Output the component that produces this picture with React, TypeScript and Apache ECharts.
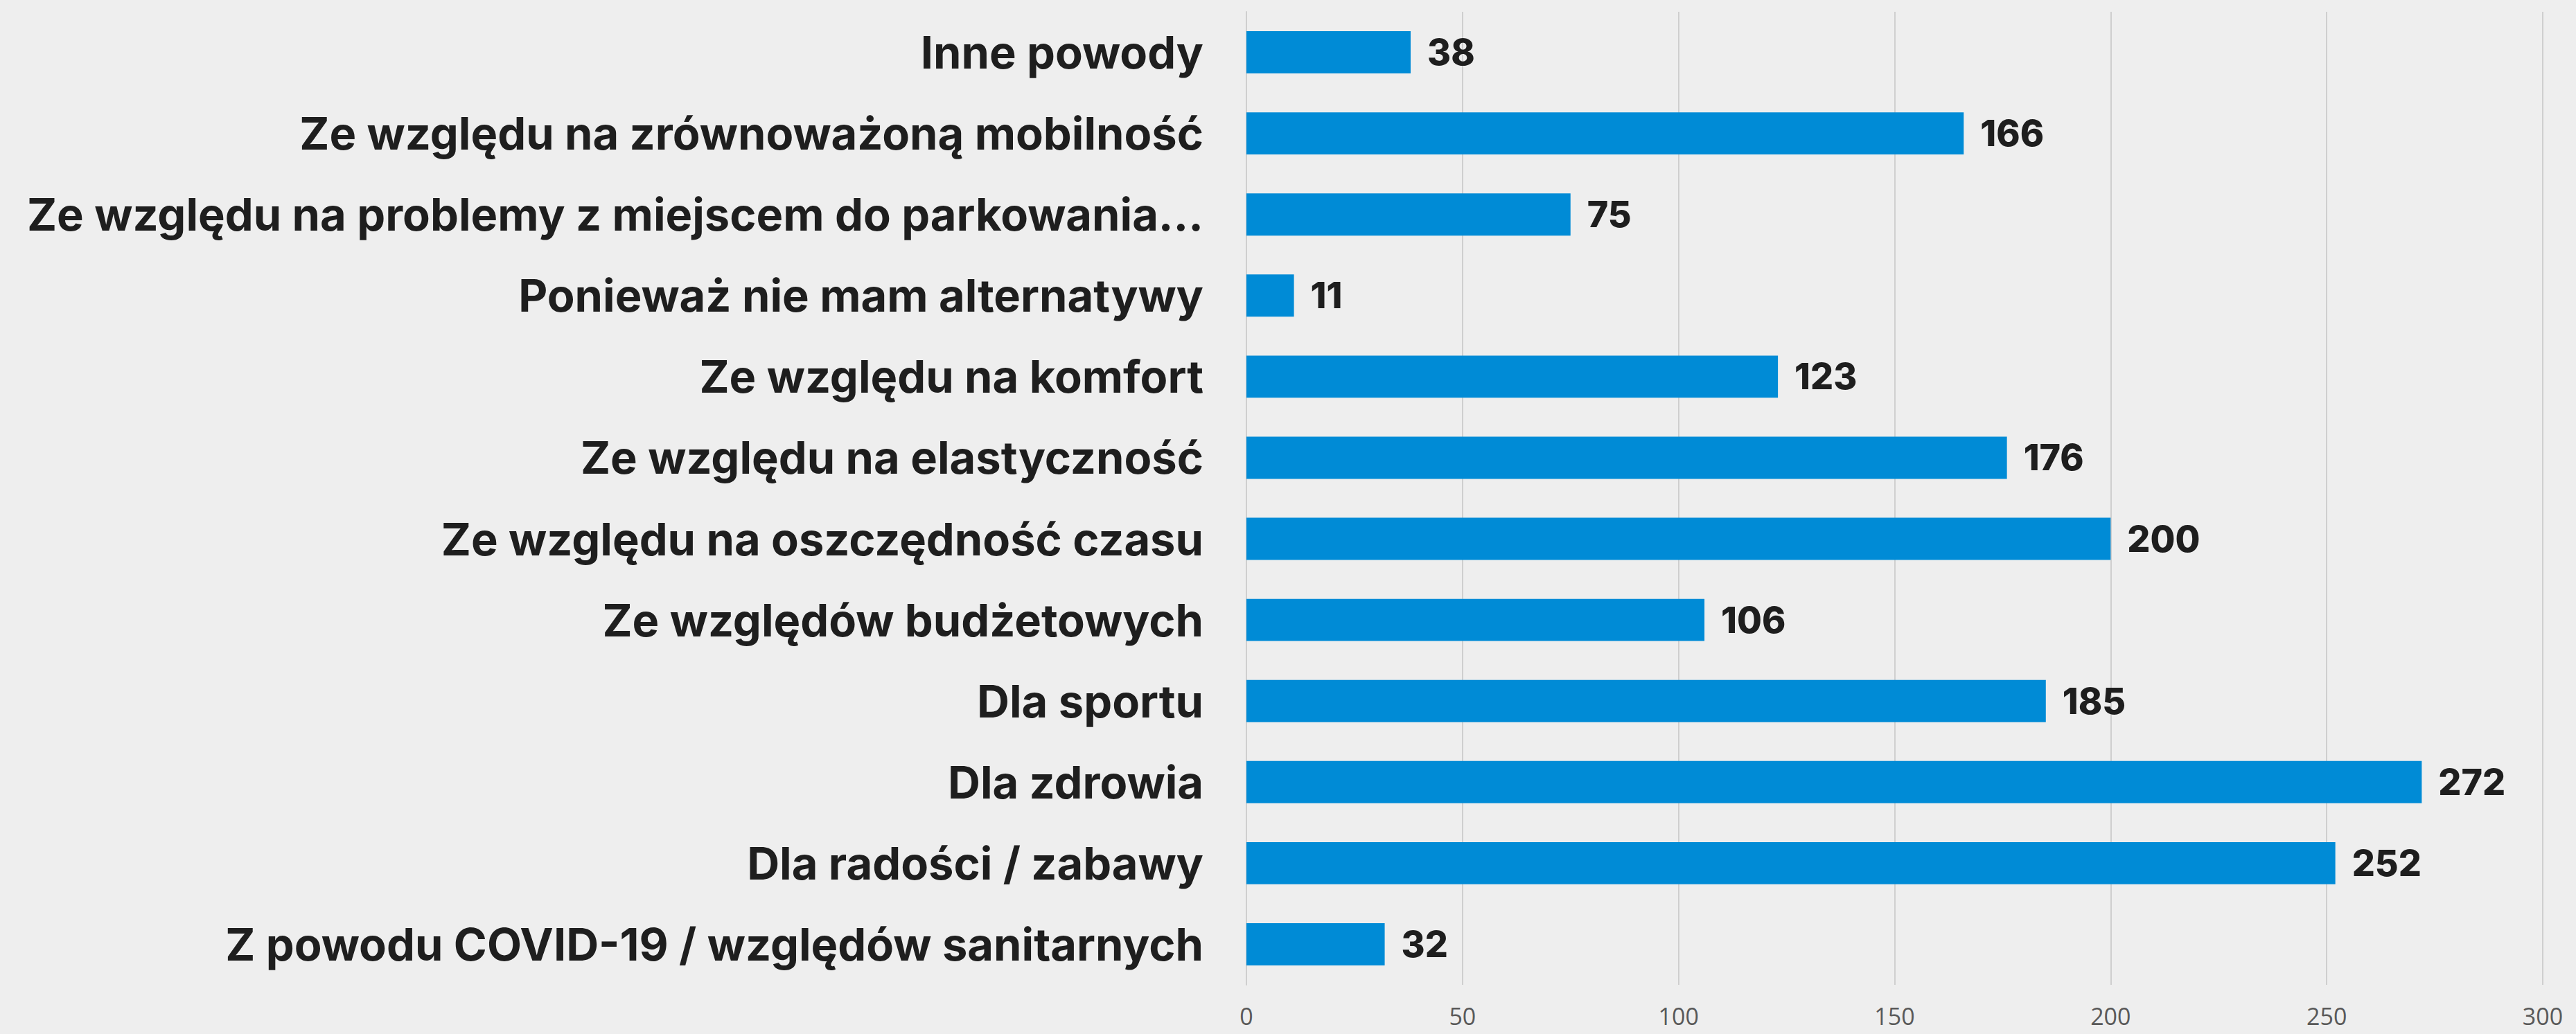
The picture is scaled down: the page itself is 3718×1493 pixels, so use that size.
import React, { useEffect, useRef } from "react";
import * as echarts from "echarts";

const categories = [
  "Z powodu COVID-19 / względów sanitarnych",
  "Dla radości / zabawy",
  "Dla zdrowia",
  "Dla sportu",
  "Ze względów budżetowych",
  "Ze względu na oszczędność czasu",
  "Ze względu na elastyczność",
  "Ze względu na komfort",
  "Ponieważ nie mam alternatywy",
  "Ze względu na problemy z miejscem do parkowania...",
  "Ze względu na zrównoważoną mobilność",
  "Inne powody",
];
const values = [32, 252, 272, 185, 106, 200, 176, 123, 11, 75, 166, 38];
const xMin = 0;
const xMax = 300;
const xInterval = 50;

export default function App() {
  const ref = useRef<HTMLDivElement>(null);
  useEffect(() => {
    if (!ref.current) return;
    const chart = echarts.init(ref.current, undefined, { renderer: "svg" });
    chart.setOption({
      animation: false,
      backgroundColor: "#eeeeee",
      grid: { left: 1799, right: 48, top: 17, bottom: 71, containLabel: false },
      xAxis: {
        type: "value",
        min: xMin,
        max: xMax,
        interval: xInterval,
        axisLine: { show: false },
        axisTick: { show: false },
        splitLine: { show: true, lineStyle: { color: "#cfcfcf", width: 2 } },
        axisLabel: {
          color: "#595959",
          fontFamily: "Open Sans",
          fontSize: 34,
          lineHeight: 34,
          margin: 28,
        },
      },
      yAxis: {
        type: "category",
        data: categories,
        axisLine: { show: true, lineStyle: { color: "#cfcfcf", width: 2 } },
        axisTick: { show: false },
        axisLabel: {
          color: "#1e1e1e",
          fontFamily: "Inter",
          fontWeight: 700,
          fontSize: 65,
          margin: 62,
        },
      },
      series: [
        {
          type: "bar",
          data: values,
          barCategoryGap: "48%",
          itemStyle: { color: "#008bd6" },
          label: {
            show: true,
            position: "right",
            distance: 24,
            color: "#1e1e1e",
            fontFamily: "Inter",
            fontWeight: 800,
            fontSize: 52,
          },
        },
      ],
    });
    return () => chart.dispose();
  }, []);
  return (
    <div
      ref={ref}
      style={{ position: "fixed", left: 0, top: 0, width: 3718, height: 1493 }}
    />
  );
}
